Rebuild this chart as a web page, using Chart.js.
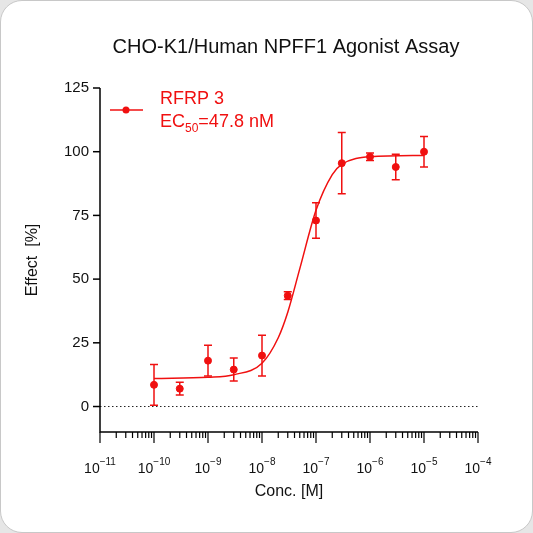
<!DOCTYPE html>
<html><head><meta charset="utf-8">
<script src="https://cdn.jsdelivr.net/npm/chart.js@4"></script>
<style>
html,body{margin:0;padding:0;background:#e6e6e6;}
#card{position:absolute;left:0;top:0;width:531px;height:531px;border:1px solid #c8c8c8;border-radius:22px;background:#fff;overflow:hidden;}
canvas{position:absolute;left:-1px;top:-1px;}
</style></head>
<body><div id="card"><canvas id="c" width="533" height="533"></canvas></div>
<script>
const conc = [1e-10, 3e-10, 1e-9, 3e-9, 1e-8, 3e-8, 1e-7, 3e-7, 1e-6, 3e-6, 1e-5];
const effect = [8.5, 7, 18, 14.5, 20, 43.5, 73, 95.5, 98, 94, 100];
const errs = [8, 2.5, 6, 4.5, 8, 1.5, 7, 12, 1.5, 5, 6];
// fitted curve
const fitX = [1e-10, 1e-9, 3e-9, 1e-8, 2e-8, 3e-8, 5e-8, 1e-7, 2e-7, 3e-7, 1e-6, 1e-5];
const fitY = [11, 11.5, 12.5, 17, 27, 37, 54, 77, 91, 95, 98, 98.5];
const yTicks = [0, 25, 50, 75, 100, 125];
const xExps = [-11, -10, -9, -8, -7, -6, -5, -4];
const red = '#f01010';
const font = '"Liberation Sans", Arial, sans-serif';

const overlay = {
  id: 'overlay',
  afterDatasetsDraw(chart) {
    const ctx = chart.ctx, xs = chart.scales.x, ys = chart.scales.y;
    const a = chart.chartArea;
    ctx.save();
    // error bars
    ctx.strokeStyle = red; ctx.lineWidth = 1.5;
    conc.forEach((c, i) => {
      const px = xs.getPixelForValue(c);
      const t = ys.getPixelForValue(effect[i] + errs[i]), b = ys.getPixelForValue(effect[i] - errs[i]);
      ctx.beginPath();
      ctx.moveTo(px, t); ctx.lineTo(px, b);
      ctx.moveTo(px - 4, t); ctx.lineTo(px + 4, t);
      ctx.moveTo(px - 4, b); ctx.lineTo(px + 4, b);
      ctx.stroke();
    });
    // dotted zero line
    ctx.strokeStyle = '#222'; ctx.lineWidth = 1; ctx.setLineDash([1.5, 2.5]);
    const y0 = ys.getPixelForValue(0);
    ctx.beginPath(); ctx.moveTo(a.left, y0); ctx.lineTo(a.right, y0); ctx.stroke();
    ctx.setLineDash([]);
    // axes
    ctx.strokeStyle = '#000'; ctx.lineWidth = 1.5;
    ctx.beginPath(); ctx.moveTo(a.left, a.top); ctx.lineTo(a.left, a.bottom); ctx.lineTo(a.right, a.bottom); ctx.stroke();
    ctx.fillStyle = '#111'; ctx.font = '15px ' + font;
    ctx.textAlign = 'right'; ctx.textBaseline = 'middle';
    yTicks.forEach(v => {
      const py = ys.getPixelForValue(v);
      ctx.beginPath(); ctx.moveTo(a.left - 7, py); ctx.lineTo(a.left, py); ctx.stroke();
      ctx.fillText(String(v), a.left - 11, py);
    });
    // x ticks
    ctx.lineWidth = 1.2;
    xExps.forEach((e, k) => {
      const px = xs.getPixelForValue(Math.pow(10, e));
      ctx.beginPath(); ctx.moveTo(px, a.bottom); ctx.lineTo(px, a.bottom + 11); ctx.stroke();
      if (k < xExps.length - 1) {
        for (let m = 2; m < 10; m++) {
          const mx = xs.getPixelForValue(m * Math.pow(10, e));
          ctx.beginPath(); ctx.moveTo(mx, a.bottom); ctx.lineTo(mx, a.bottom + 6); ctx.stroke();
        }
      }
      ctx.textAlign = 'left'; ctx.textBaseline = 'alphabetic';
      const sup = String(e).replace('-', '\u2212');
      ctx.font = '14px ' + font; const w1 = ctx.measureText('10').width;
      ctx.font = '10px ' + font; const w2 = ctx.measureText(sup).width;
      const x0 = px - (w1 + w2) / 2;
      ctx.font = '14px ' + font; ctx.fillText('10', x0, a.bottom + 41);
      ctx.font = '10px ' + font; ctx.fillText(sup, x0 + w1, a.bottom + 33);
    });
    // axis titles
    ctx.font = '16px ' + font; ctx.textAlign = 'center'; ctx.textBaseline = 'middle';
    ctx.fillText('Conc. [M]', (a.left + a.right) / 2, 492);
    ctx.save(); ctx.translate(33, 260); ctx.rotate(-Math.PI / 2);
    ctx.fillText('Effect  [%]', 0, 0); ctx.restore();
    ctx.font = '20px ' + font;
    ctx.fillText('CHO-K1/Human NPFF1 Agonist Assay', 286, 47);
    // legend
    ctx.strokeStyle = red; ctx.fillStyle = red; ctx.lineWidth = 1.5;
    ctx.beginPath(); ctx.moveTo(110, 110); ctx.lineTo(143, 110); ctx.stroke();
    ctx.beginPath(); ctx.arc(126, 110, 3.5, 0, Math.PI * 2); ctx.fill();
    ctx.font = '18px ' + font; ctx.textAlign = 'left'; ctx.textBaseline = 'alphabetic';
    ctx.fillText('RFRP 3', 160, 104);
    ctx.fillText('EC', 160, 127);
    let w = ctx.measureText('EC').width;
    ctx.font = '12px ' + font; ctx.fillText('50', 160 + w, 132);
    const w2 = ctx.measureText('50').width;
    ctx.font = '18px ' + font; ctx.fillText('=47.8 nM', 160 + w + w2, 127);
    ctx.restore();
  }
};

new Chart(document.getElementById('c'), {
  type: 'scatter',
  data: {
    datasets: [
      { data: conc.map((c, i) => ({x: c, y: effect[i]})), backgroundColor: red, borderColor: red, pointRadius: 3.5, showLine: false },
      { data: fitX.map((c, i) => ({x: c, y: fitY[i]})), borderColor: red, borderWidth: 1.5, pointRadius: 0, showLine: true, cubicInterpolationMode: 'monotone' }
    ]
  },
  options: {
    responsive: false, animation: false,
    layout: { padding: { left: 100, right: 55, top: 88, bottom: 101 } },
    plugins: { legend: { display: false }, tooltip: { enabled: false } },
    scales: {
      x: { type: 'logarithmic', min: 1e-11, max: 1e-4, display: false },
      y: { min: -10, max: 125, display: false }
    }
  },
  plugins: [overlay]
});
</script></body></html>
